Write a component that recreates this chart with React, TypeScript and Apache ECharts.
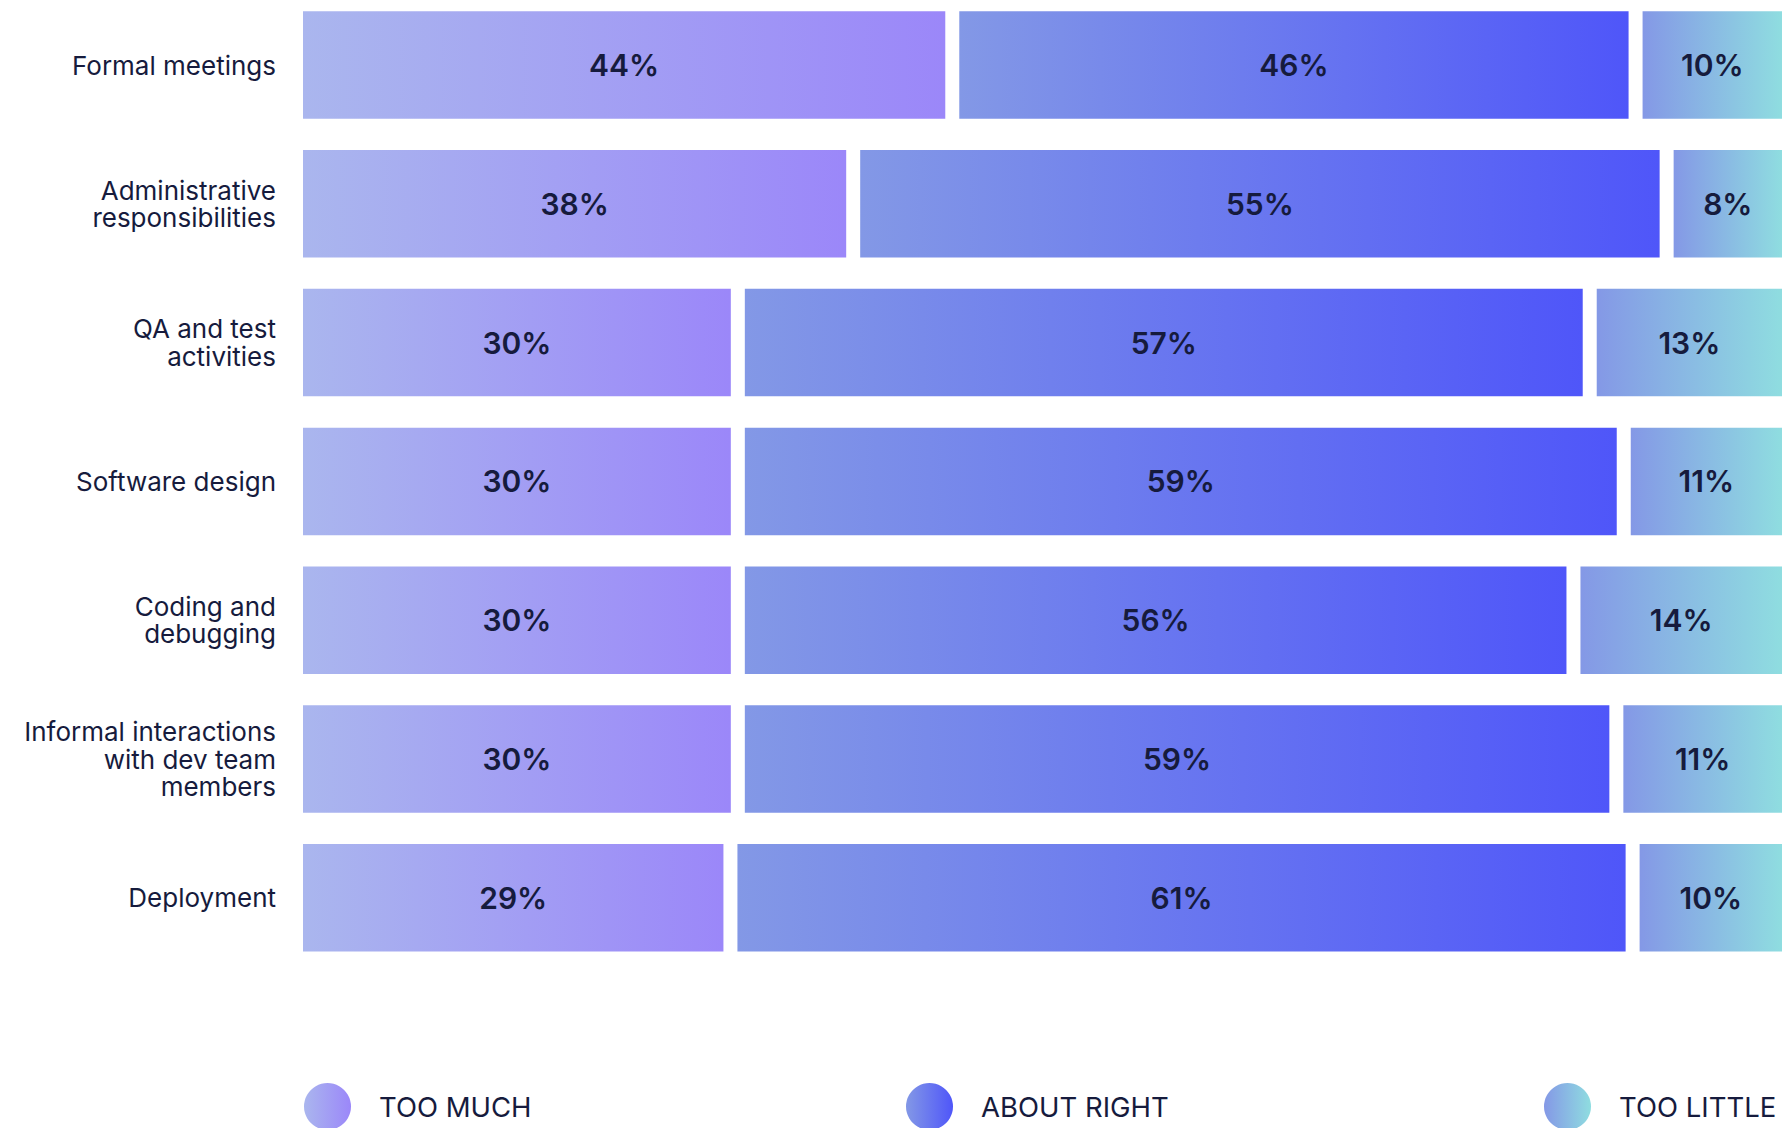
import React, { useEffect, useRef } from "react";
import * as echarts from "echarts";

const categories = [
  "Formal meetings",
  "Administrative\nresponsibilities",
  "QA and test\nactivities",
  "Software design",
  "Coding and\ndebugging",
  "Informal interactions\nwith dev team\nmembers",
  "Deployment",
];

// bar shares
const tooMuch = [43.9, 37.2, 29.4, 29.4, 29.4, 29.4, 28.9];
const aboutRight = [46.2, 55.0, 57.6, 59.9, 56.5, 59.4, 61.0];
const tooLittle = [9.9, 7.8, 13.0, 10.7, 14.1, 11.2, 10.1];

// printed percentages
const tooMuchLabels = [44, 38, 30, 30, 30, 30, 29];
const aboutRightLabels = [46, 55, 57, 59, 56, 59, 61];
const tooLittleLabels = [10, 8, 13, 11, 14, 11, 10];

const seriesNames = ["TOO MUCH", "ABOUT RIGHT", "TOO LITTLE"];

const TEXT = "#161b3d";

const grads = [
  ["#aab6ee", "#9b87f9"],
  ["#8398e6", "#4f56f9"],
  ["#8498e6", "#8fdde0"],
];

function lg(c: string[]) {
  return new echarts.graphic.LinearGradient(0, 0, 1, 0, [
    { offset: 0, color: c[0] },
    { offset: 1, color: c[1] },
  ]);
}

const SHIFT = 20;

export default function App() {
  const ref = useRef<HTMLDivElement>(null);
  useEffect(() => {
    if (!ref.current) return;
    const chart = echarts.init(ref.current, undefined, { renderer: "svg" });

    const values = [tooMuch, aboutRight, tooLittle];
    const labels = [tooMuchLabels, aboutRightLabels, tooLittleLabels];
    const GAP = 7;
    const BAR_H = 107.5;

    const series = values.map((vals, s) => {
      const data = vals.map((v, i) => {
        let start = 0;
        for (let k = 0; k < s; k++) start += values[k][i];
        return [start, start + v, i, labels[s][i]];
      });
      return {
        type: "custom",
        name: seriesNames[s],
        itemStyle: { color: lg(grads[s]) },
        encode: { x: [0, 1], y: 2 },
        data,
        renderItem: (params: any, api: any) => {
          const start = api.value(0);
          const end = api.value(1);
          const cat = api.value(2);
          const lab = api.value(3);
          const p0 = api.coord([start, cat]);
          const p1 = api.coord([end, cat]);
          const gl = start > 0.01 ? GAP : 0;
          const gr = end < 99.99 ? GAP : 0;
          const x = p0[0] + gl;
          const w = p1[0] - gr - x;
          const y = p0[1] - BAR_H / 2;
          return {
            type: "group",
            children: [
              {
                type: "rect",
                shape: { x, y, width: w, height: BAR_H },
                style: { fill: lg(grads[s]) },
              },
              {
                type: "text",
                style: {
                  text: lab + "%",
                  x: x + w / 2,
                  y: p0[1],
                  align: "center",
                  verticalAlign: "middle",
                  fill: TEXT,
                  fontSize: 30,
                  fontWeight: 600,
                  fontFamily: "Inter",
                },
              },
            ],
          };
        },
      };
    });

    const legendLefts = [304, 906, 1544];
    const legend = seriesNames.map((n, i) => ({
      data: [n],
      left: legendLefts[i],
      top: 1083 + SHIFT,
      padding: 0,
      icon: "circle",
      itemWidth: 47,
      itemHeight: 47,
      selectedMode: false,
      textStyle: {
        fontSize: 27.5,
        color: TEXT,
        fontFamily: "Inter",
        padding: [0, 0, 0, 23],
      },
    }));

    chart.setOption({
      animation: false,
      legend,
      grid: { left: 303, right: 5, top: SHIFT - 4.4, height: 971.6, containLabel: false },
      xAxis: { type: "value", min: 0, max: 100, show: false },
      yAxis: {
        type: "category",
        data: categories,
        inverse: true,
        axisLine: { show: false },
        axisTick: { show: false },
        axisLabel: {
          margin: 27,
          fontSize: 26,
          lineHeight: 27.5,
          color: TEXT,
          fontFamily: "Inter",
          align: "right",
        },
      },
      series,
    });
    return () => chart.dispose();
  }, []);
  return (
    <div
      ref={ref}
      style={{ position: "absolute", left: 0, top: -SHIFT, width: 1787, height: 1128 + SHIFT }}
    />
  );
}
